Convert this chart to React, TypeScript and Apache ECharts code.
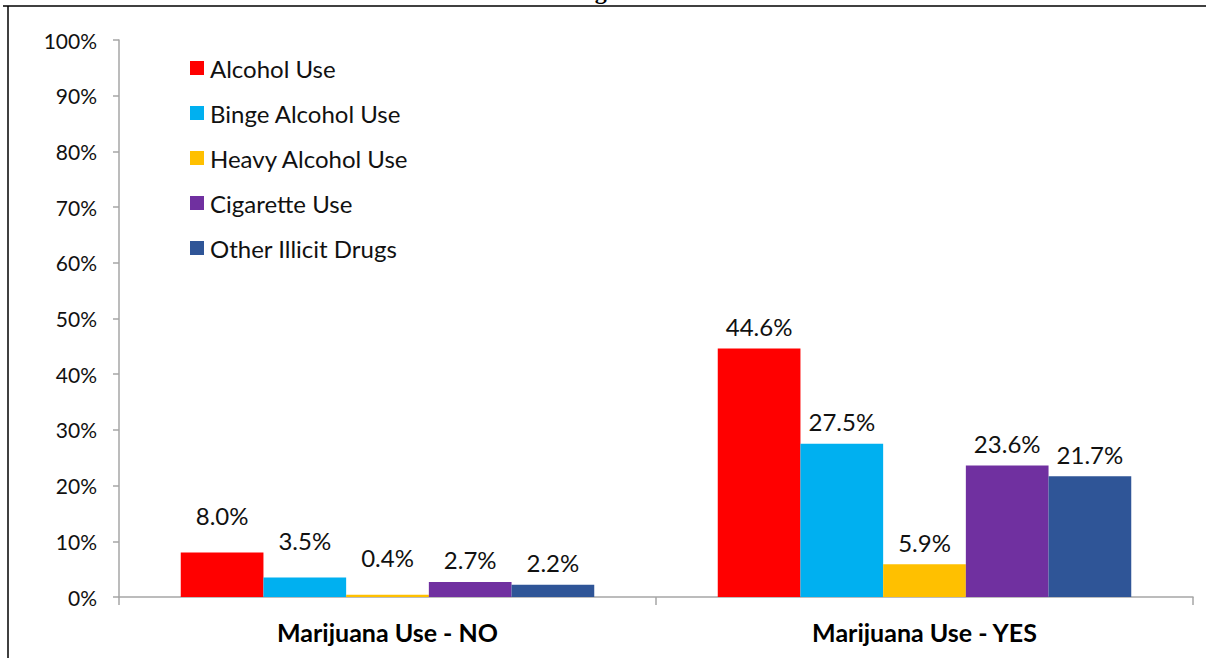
import React, { useEffect, useRef } from "react";
import * as echarts from "echarts";

const categories = ["Marijuana Use - NO", "Marijuana Use - YES"];
const seriesNames = ["Alcohol Use", "Binge Alcohol Use", "Heavy Alcohol Use", "Cigarette Use", "Other Illicit Drugs"];
const alcoholUse = [8.0, 44.6];
const bingeAlcoholUse = [3.5, 27.5];
const heavyAlcoholUse = [0.4, 5.9];
const cigaretteUse = [2.7, 23.6];
const otherIllicitDrugs = [2.2, 21.7];
const colors = ["#FF0000", "#00B0F0", "#FFC000", "#7030A0", "#2F5597"];
const yTicks = [0, 10, 20, 30, 40, 50, 60, 70, 80, 90, 100];

const FONT = "Lato";

export default function App() {
  const ref = useRef<HTMLDivElement>(null);
  useEffect(() => {
    document.body.style.margin = "0";
    const chart = echarts.init(ref.current!, null, { renderer: "svg" });
    const values = [alcoholUse, bingeAlcoholUse, heavyAlcoholUse, cigaretteUse, otherIllicitDrugs];
    // labels lifted higher for the first three bars of the first category (as in the reference)
    const labelDistance = (si: number, ci: number) => (ci === 0 && si <= 2 ? 25 : 10);
    chart.setOption({
      animation: false,
      backgroundColor: "#ffffff",
      textStyle: { fontFamily: FONT },
      grid: { left: 119, right: 13, top: 40, bottom: 61, containLabel: false },
      legend: {
        orient: "vertical",
        left: 185,
        top: 51,
        itemWidth: 14,
        itemHeight: 14,
        itemGap: 21,
        icon: "rect",
        data: seriesNames,
        textStyle: { fontFamily: FONT, fontSize: 24, color: "#111", padding: [0, 0, 0, 1] },
      },
      xAxis: {
        type: "category",
        data: categories,
        axisLine: { show: true, lineStyle: { color: "#a6a6a6", width: 1.5 } },
        axisTick: { show: true, length: 8, lineStyle: { color: "#a6a6a6", width: 1.5 } },
        axisLabel: { fontFamily: FONT, fontWeight: "bold", fontSize: 25, color: "#000", margin: 22 },
      },
      yAxis: {
        type: "value",
        min: 0,
        max: 100,
        interval: 10,
        axisLine: { show: true, lineStyle: { color: "#a6a6a6", width: 1.5 } },
        axisTick: { show: true, length: 6, lineStyle: { color: "#a6a6a6", width: 1.5 } },
        splitLine: { show: false },
        axisLabel: {
          fontFamily: FONT,
          fontSize: 21,
          color: "#111",
          margin: 22,
          formatter: (v: number) => (yTicks.includes(v) ? v + "%" : ""),
        },
      },
      series: seriesNames.map((name, i) => ({
        name,
        type: "bar",
        data: values[i].map((v, ci) => ({ value: v, label: { distance: labelDistance(i, ci) } })),
        barWidth: 82.7,
        barGap: "0%",
        itemStyle: { color: colors[i] },
        label: {
          show: true,
          position: "top",
          fontFamily: FONT,
          fontSize: 24,
          color: "#111",
          formatter: (p: any) => Number(p.value).toFixed(1) + "%",
        },
      })),
      graphic: [
        {
          type: "text",
          x: 616,
          y: 3,
          style: {
            text: "Drugs",
            font: "bold 24px 'Liberation Serif'",
            fill: "#000",
            textAlign: "right",
            textVerticalAlign: "bottom",
          },
        },
        { type: "line", shape: { x1: 3, y1: 6, x2: 1206, y2: 6 }, style: { stroke: "#000", lineWidth: 1.5 } },
        { type: "line", shape: { x1: 8, y1: 6, x2: 8, y2: 658 }, style: { stroke: "#000", lineWidth: 1.5 } },
      ],
    });
    return () => chart.dispose();
  }, []);
  return <div ref={ref} style={{ width: 1206, height: 658 }} />;
}
